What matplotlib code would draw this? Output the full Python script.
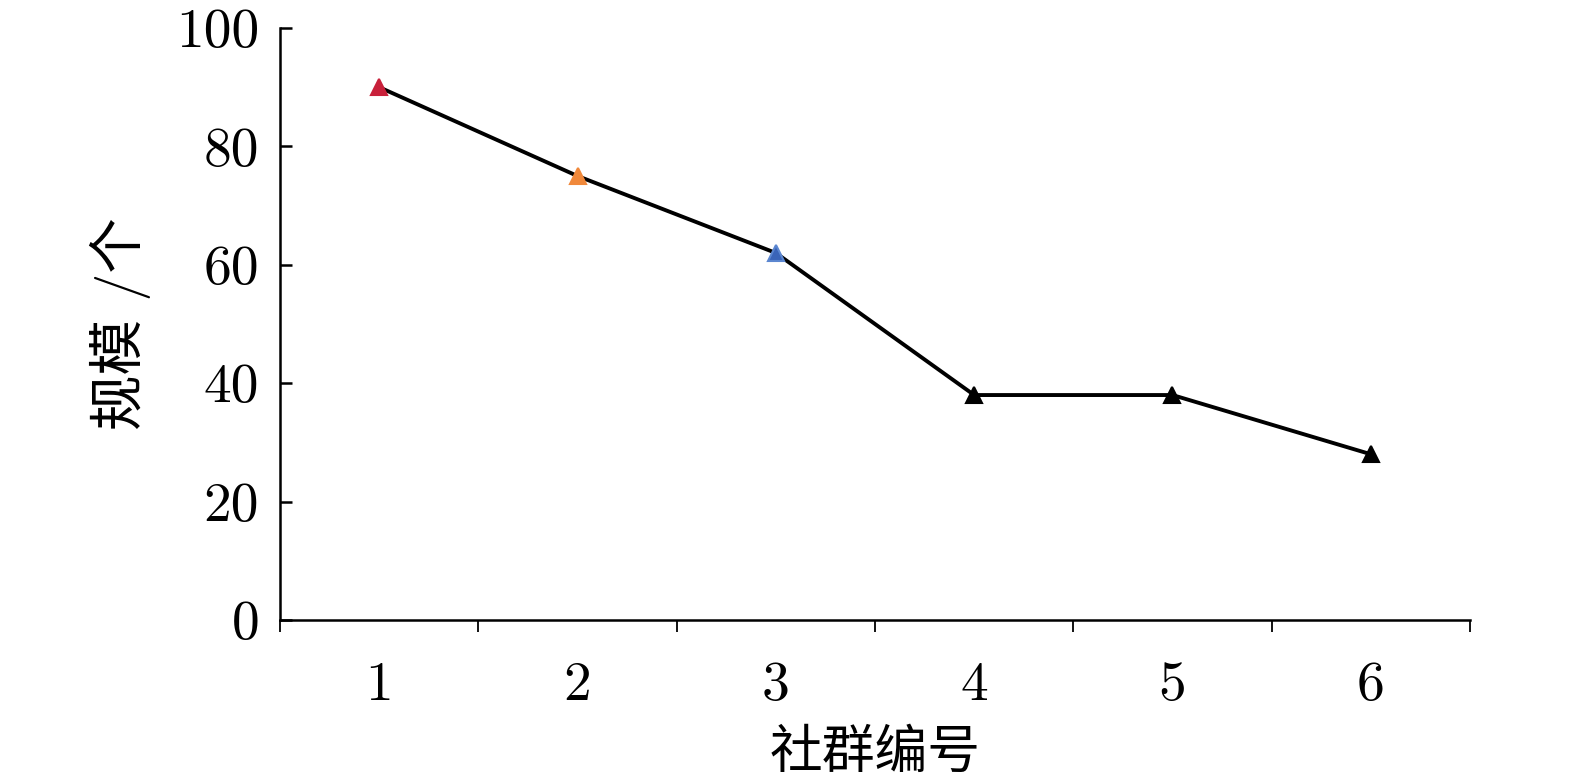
import numpy as np
import matplotlib
matplotlib.use('Agg')
import matplotlib.pyplot as plt

plt.rcParams['font.family'] = ['cmr10', 'Noto Sans CJK SC', 'DejaVu Sans']
plt.rcParams['axes.formatter.use_mathtext'] = True

communities = [1, 2, 3, 4, 5, 6]
sizes = [90, 75, 62, 38, 38, 28]
marker_colors = ['#c8203a', '#f0883a', '#3a64b8', 'black', 'black', 'black']
edge_colors = ['#c8203a', '#f0883a', '#5b86d0', 'black', 'black', 'black']
y_ticks = [0, 20, 40, 60, 80, 100]

fig = plt.figure(figsize=(15.75, 7.84), dpi=100)
ax = fig.add_axes([280/1575, 1-620/784, (1470-280)/1575, (620-28)/784])

ax.plot(communities, sizes, color='black', lw=2.8, zorder=2)
for x, y, c, ec in zip(communities, sizes, marker_colors, edge_colors):
    ax.plot(x, y, marker='^', ms=12, color=c, mec=ec, mew=1.5, ls='none', zorder=3)

ax.set_xlim(0.5, 6.5)
ax.set_ylim(0, 100)

# category boundaries as major ticks, labels at centers
ax.set_xticks(np.arange(0.5, 7, 1))
ax.set_xticklabels([])
ax.set_xticks(communities, minor=True)
ax.set_xticklabels([str(c) for c in communities], minor=True)
ax.tick_params(axis='x', which='major', direction='out', length=8.6, width=1.3)
ax.tick_params(axis='x', which='minor', length=0, pad=30, labelsize=40)

ax.set_yticks(y_ticks)
ax.set_yticklabels([str(v) for v in y_ticks])
ax.tick_params(axis='y', direction='in', length=8.6, width=1.8, pad=15, labelsize=40)

for s in ['top', 'right']:
    ax.spines[s].set_visible(False)
ax.spines['left'].set_linewidth(1.8)
ax.spines['bottom'].set_linewidth(1.8)

ax.set_xlabel('社群编号', fontsize=38)
ax.xaxis.set_label_coords(0.5, -0.185)
ax.set_ylabel('规模 /个', fontsize=40)
ax.yaxis.set_label_coords(-0.108, 0.5)

fig.savefig('out.png', dpi=100)
